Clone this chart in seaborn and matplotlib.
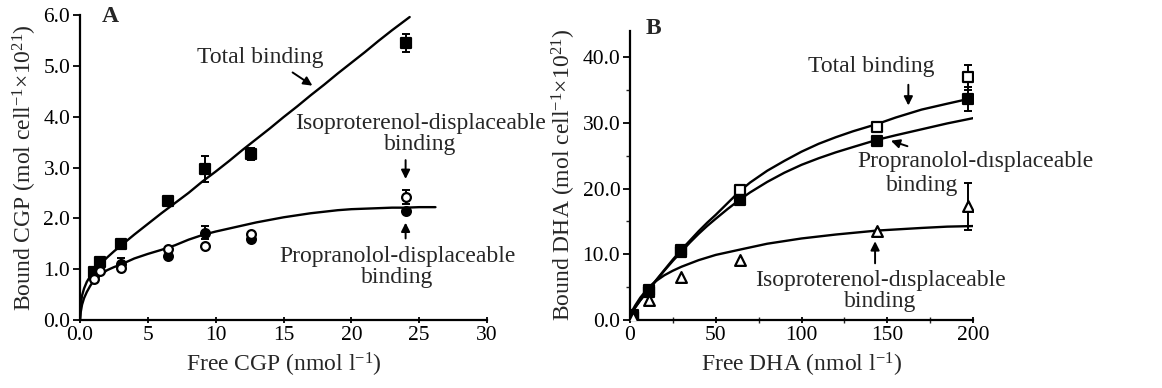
import matplotlib
matplotlib.use("Agg")
import matplotlib.pyplot as plt
import seaborn as sns
import pandas as pd

# ---------------- Panel A data (CGP) ----------------
a_total_x = [1.0, 1.5, 3.0, 6.5, 9.2, 12.6, 24.0]
a_total_y = [0.95, 1.15, 1.50, 2.35, 2.97, 3.27, 5.45]
a_total_err = [0.0, 0.05, 0.0, 0.0, 0.25, 0.12, 0.18]

a_prop_x = [1.0, 3.0, 6.5, 9.2, 12.6, 24.0]
a_prop_y = [0.92, 1.10, 1.25, 1.72, 1.60, 2.15]
a_prop_err = [0.0, 0.12, 0.0, 0.12, 0.0, 0.0]

a_iso_x = [1.0, 1.5, 3.0, 6.5, 9.2, 12.6, 24.0]
a_iso_y = [0.80, 0.97, 1.03, 1.40, 1.45, 1.70, 2.42]
a_iso_err = [0.0, 0.0, 0.0, 0.0, 0.0, 0.0, 0.13]

# fitted curves
a_curve_total_x = [0, 0.05, 0.15, 0.3, 0.5, 0.75, 1.0, 1.5, 2, 2.5, 3, 4, 5, 6, 7, 8,
                   9, 10, 11, 12, 13, 14, 15, 16, 17, 18, 19, 20, 21, 22, 23, 24.3]
a_curve_total_y = [0, 0.30, 0.48, 0.62, 0.75, 0.86, 0.95, 1.10, 1.23, 1.35, 1.46, 1.68,
                   1.89, 2.10, 2.30, 2.50, 2.72, 2.92, 3.13, 3.35, 3.56, 3.77, 3.99,
                   4.20, 4.42, 4.63, 4.85, 5.06, 5.27, 5.49, 5.70, 5.96]
a_curve_spec_x = [0, 0.05, 0.15, 0.3, 0.5, 0.75, 1.0, 1.5, 2, 2.5, 3, 4, 5, 6, 7, 8,
                  9, 10, 11, 12, 13, 14, 15, 16, 17, 18, 19, 20, 21, 22, 23, 24, 25, 26.2]
a_curve_spec_y = [0, 0.15, 0.30, 0.43, 0.55, 0.67, 0.77, 0.89, 0.98, 1.04, 1.09, 1.21,
                  1.30, 1.38, 1.47, 1.58, 1.67, 1.74, 1.80, 1.86, 1.92, 1.97, 2.02,
                  2.06, 2.10, 2.13, 2.16, 2.18, 2.19, 2.20, 2.21, 2.21, 2.22, 2.22]

a_xticks = [0, 5, 10, 15, 20, 25, 30]
a_xticklabels = ["0.0", "5", "10", "15", "20", "25", "30"]
a_yticks = [0, 1, 2, 3, 4, 5, 6]
a_yticklabels = ["0.0", "1.0", "2.0", "3.0", "4.0", "5.0", "6.0"]

# ---------------- Panel B data (DHA) ----------------
b_total_x = [2, 11, 30, 64, 144, 197]
b_total_y = [0.7, 4.5, 10.7, 19.7, 29.4, 36.9]
b_total_err = [0, 0, 0, 0, 0, 1.9]

b_prop_x = [2, 11, 30, 64, 144, 197]
b_prop_y = [0.5, 4.3, 10.4, 18.2, 27.2, 33.6]
b_prop_err = [0, 0, 0, 0, 0, 1.8]

b_iso_x = [2, 11, 30, 64, 144, 197]
b_iso_y = [0.4, 3.0, 6.6, 9.1, 13.6, 17.3]
b_iso_err = [0, 0, 0, 0, 0, 3.6]

b_curve_total_x = [0, 3, 6, 11, 15, 20, 25, 30, 35, 40, 45, 50, 57, 64, 70, 80, 90,
                   100, 110, 120, 130, 144, 155, 170, 185, 197, 202]
b_curve_total_y = [0.8, 1.9, 3.0, 4.7, 6.0, 7.6, 9.2, 10.7, 12.1, 13.5, 14.8, 16.0,
                   17.8, 19.6, 20.9, 22.7, 24.2, 25.6, 26.8, 27.8, 28.7, 29.8, 30.8,
                   32.0, 32.9, 33.6, 33.9]
b_curve_prop_x = [0, 3, 6, 11, 15, 20, 25, 30, 35, 40, 45, 50, 57, 64, 70, 80, 90,
                  100, 110, 120, 130, 144, 155, 170, 185, 202]
b_curve_prop_y = [0.8, 1.9, 3.0, 4.6, 5.9, 7.5, 9.0, 10.4, 11.8, 13.1, 14.3, 15.4,
                  16.9, 18.3, 19.4, 21.0, 22.4, 23.6, 24.6, 25.5, 26.3, 27.4, 28.1,
                  29.0, 29.9, 30.8]
b_curve_iso_x = [0, 3, 6, 11, 15, 20, 25, 30, 40, 50, 64, 80, 100, 120, 144, 170,
                 185, 202]
b_curve_iso_y = [0.8, 2.2, 3.4, 5.0, 5.9, 6.8, 7.5, 8.1, 9.1, 9.9, 10.7, 11.6, 12.4,
                 13.0, 13.6, 14.0, 14.2, 14.3]

b_xticks = [0, 50, 100, 150, 200]
b_xticklabels = ["0", "50", "100", "150", "200"]
b_yticks = [0, 10, 20, 30, 40]
b_yticklabels = ["0.0", "10.0", "20.0", "30.0", "40.0"]

# ---------------- style ----------------
sns.set_theme(style="ticks")
plt.rcParams["font.family"] = ["Liberation Serif", "DejaVu Serif"]
plt.rcParams["mathtext.fontset"] = "custom"
plt.rcParams["mathtext.rm"] = "Liberation Serif"
plt.rcParams["mathtext.it"] = "Liberation Serif:italic"
plt.rcParams["axes.linewidth"] = 1.6

FS = 17     # annotation / axis label size
TFS = 15.5  # tick label size

fig = plt.figure(figsize=(11.62, 3.88), dpi=100)
axA = fig.add_axes([80 / 1162, 68 / 388, 407 / 1162, 305 / 388])
axB = fig.add_axes([630 / 1162, 68 / 388, 343 / 1162, 289.3 / 388])

K = "black"


def draw_curve(ax, xs, ys):
    df = pd.DataFrame({"x": xs, "y": ys})
    sns.lineplot(data=df, x="x", y="y", ax=ax, color=K, lw=1.7, sort=False,
                 estimator=None)


def draw_points(ax, xs, ys, errs, marker, filled, size):
    for x, y, e in zip(xs, ys, errs):
        if e > 0:
            ax.errorbar([x], [y], yerr=[[e], [e]], fmt="none", ecolor=K,
                        elinewidth=1.4, capsize=3, capthick=1.4, zorder=3)
    df = pd.DataFrame({"x": xs, "y": ys})
    sns.scatterplot(data=df, x="x", y="y", ax=ax, marker=marker, s=size,
                    color=K if filled else "white", edgecolor=K,
                    linewidth=1.6, zorder=4)


def arrow(ax, xy, xytext):
    ax.annotate("", xy=xy, xytext=xytext,
                arrowprops=dict(arrowstyle="-|>", color=K, lw=1.4, mutation_scale=13))


# ---- Panel A ----
draw_curve(axA, a_curve_total_x, a_curve_total_y)
draw_curve(axA, a_curve_spec_x, a_curve_spec_y)
draw_points(axA, a_total_x, a_total_y, a_total_err, "s", True, 48)
draw_points(axA, a_prop_x, a_prop_y, a_prop_err, "o", True, 40)
draw_points(axA, a_iso_x, a_iso_y, a_iso_err, "o", False, 40)

axA.set_xlim(0, 30)
axA.set_ylim(0, 6)
axA.set_xticks(a_xticks)
axA.set_xticklabels(a_xticklabels)
axA.set_yticks(a_yticks)
axA.set_yticklabels(a_yticklabels)
axA.set_xlabel(r"Free CGP (nmol l$^{-1}$)", fontsize=FS, labelpad=4)
axA.set_ylabel(r"Bound CGP (mol cell$^{-1}$$\times$10$^{21}$)", fontsize=FS, labelpad=3)

axA.text(2.2, 5.98, "A", fontsize=FS, fontweight="bold", ha="center", va="center")
axA.text(13.3, 5.16, "Total binding", fontsize=FS, ha="center", va="center")
arrow(axA, (17.3, 4.58), (15.5, 4.9))
axA.text(25.1, 3.66, "Isoproterenol-displaceable\nbinding", fontsize=FS,
         ha="center", va="center", linespacing=1.0, clip_on=False)
arrow(axA, (24.0, 2.72), (24.0, 3.2))
axA.text(23.4, 1.05, "Propranolol-displaceable\nbinding", fontsize=FS,
         ha="center", va="center", linespacing=1.0, clip_on=False)
arrow(axA, (24.0, 1.97), (24.0, 1.55))

# ---- Panel B ----
draw_curve(axB, b_curve_total_x, b_curve_total_y)
draw_curve(axB, b_curve_prop_x, b_curve_prop_y)
draw_curve(axB, b_curve_iso_x, b_curve_iso_y)
draw_points(axB, b_total_x, b_total_y, b_total_err, "s", False, 42)
draw_points(axB, b_prop_x, b_prop_y, b_prop_err, "s", True, 48)
draw_points(axB, b_iso_x, b_iso_y, b_iso_err, "^", False, 60)

axB.set_xlim(0, 200)
axB.set_ylim(0, 44)
axB.set_xticks(b_xticks)
axB.set_xticklabels(b_xticklabels)
axB.set_yticks(b_yticks)
axB.set_yticklabels(b_yticklabels)
axB.set_xticks([25, 75, 125, 175], minor=True)
axB.set_yticks([5, 15, 25, 35], minor=True)
axB.set_xlabel(r"Free DHA (nmol l$^{-1}$)", fontsize=FS, labelpad=4)
axB.set_ylabel(r"Bound DHA (mol cell$^{-1}$$\times$10$^{21}$)", fontsize=FS, labelpad=3)

axB.text(13.4, 44.4, "B", fontsize=FS, fontweight="bold", ha="center", va="center",
         clip_on=False)
axB.text(140.9, 38.5, "Total binding", fontsize=FS, ha="center", va="center")
arrow(axB, (162.3, 32.2), (162.3, 36.2))
axB.text(201.6, 24.1, "Propranolol-dısplaceable", fontsize=FS, ha="center",
         va="center", clip_on=False)
axB.text(170.1, 20.5, "binding", fontsize=FS, ha="center", va="center", clip_on=False)
arrow(axB, (150.6, 27.4), (163.3, 26.3))
axB.text(145.8, 4.4, "Isoproterenol-dısplaceable\nbinding", fontsize=FS,
         ha="center", va="center", linespacing=1.0, clip_on=False)
arrow(axB, (142.9, 12.4), (142.9, 8.2))

for ax in (axA, axB):
    sns.despine(ax=ax)
    ax.tick_params(axis="both", which="major", labelsize=TFS, colors=K,
                   length=5, width=1.3, pad=2)
    ax.tick_params(axis="x", which="both", direction="inout")
    ax.tick_params(axis="y", which="minor", direction="out", length=3, width=1.0)
    ax.tick_params(axis="x", which="minor", length=4, width=1.0)
    for sp in ("left", "bottom"):
        ax.spines[sp].set_color(K)
    ax.set_facecolor("white")

fig.patch.set_facecolor("white")
fig.savefig("out.png", dpi=100, facecolor="white")
